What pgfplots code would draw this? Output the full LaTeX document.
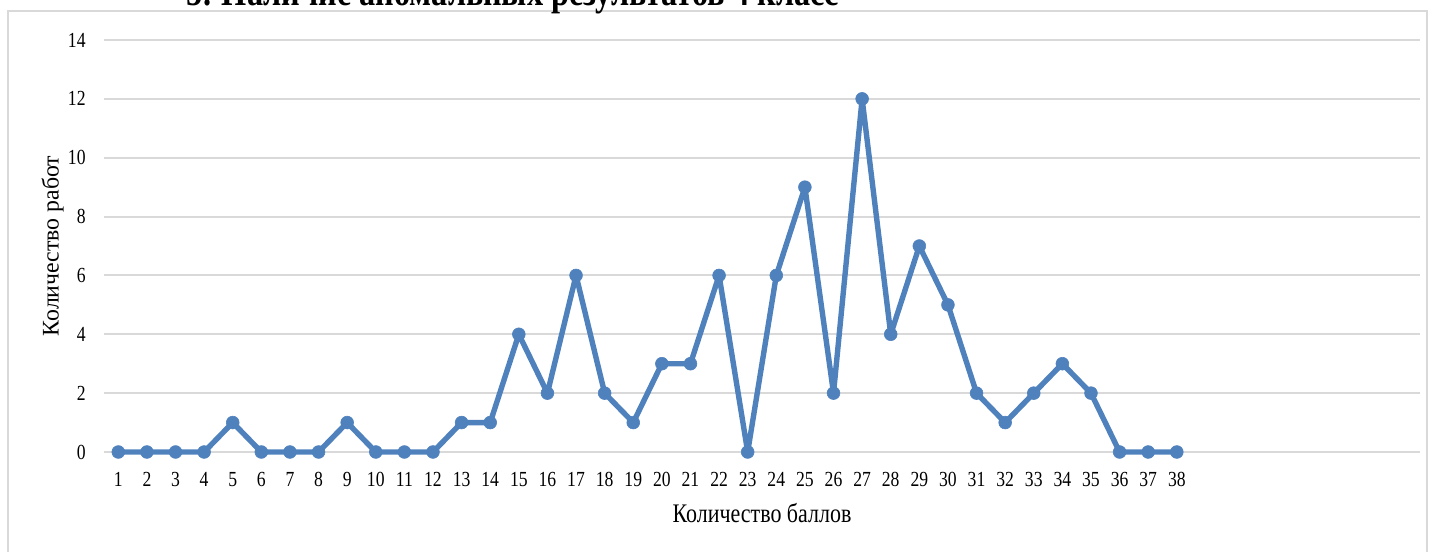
\documentclass[border=0pt]{standalone}
\usepackage{fontspec}
\setmainfont{Liberation Serif}[FakeStretch=0.82]
\newfontfamily\plainserif{Liberation Serif}
\usepackage{pgfplots}
\pgfplotsset{compat=1.18}
\definecolor{linecol}{HTML}{4F81BD}
\definecolor{gridgray}{HTML}{D9D9D9}
\begin{document}
\begin{tikzpicture}
\begin{scope}[x=0.5pt,y=0.5pt]
\useasboundingbox (0,0) rectangle (1432,552);
\draw[gridgray, line width=0.8pt] (8,-20) -- (8,541) -- (1427,541) -- (1427,-20);
\node[anchor=base, inner sep=0pt] at (513,546) {\bfseries\fontsize{19.7}{23}\selectfont 5. Наличие аномальных результатов 4 класс};
\end{scope}
\begin{axis}[
  at={(52pt,50pt)}, anchor=south west,
  scale only axis, width=658pt, height=206pt,
  xmin=0.5, xmax=46.5, ymin=0, ymax=14,
  xtick={1,...,38}, ytick={0,2,...,14},
  major tick length=0pt,
  axis line style={draw=none},
  xtick style={draw=none}, ytick style={draw=none},
  ymajorgrids, major grid style={color=gridgray, line width=1pt},
  /pgf/number format/assume math mode=true,
  tick label style={font=\fontsize{10.75}{13}\selectfont},
  yticklabel style={anchor=east, inner sep=0pt, xshift=-9pt},
  xticklabel style={anchor=base, inner sep=0pt, yshift=-17.5pt},
  xlabel={Количество баллов},
  ylabel={\plainserif\fontsize{11.9}{14}\selectfont Количество работ},
  label style={font=\fontsize{13.4}{16}\selectfont},
  xlabel style={at={(axis description cs:0.5,0)}, anchor=base, inner sep=0pt, yshift=-35.5pt},
  ylabel style={at={(axis description cs:-0.039,0.5)}, anchor=center},
  clip=false,
]
\addplot[color=linecol, line width=2.7pt, line join=round, mark=*, mark size=3.2pt,
  mark options={fill=linecol, draw=linecol, line width=0.3pt}]
  coordinates {
  (1,0) (2,0) (3,0) (4,0) (5,1) (6,0) (7,0) (8,0) (9,1) (10,0)
  (11,0) (12,0) (13,1) (14,1) (15,4) (16,2) (17,6) (18,2) (19,1) (20,3)
  (21,3) (22,6) (23,0) (24,6) (25,9) (26,2) (27,12) (28,4) (29,7) (30,5)
  (31,2) (32,1) (33,2) (34,3) (35,2) (36,0) (37,0) (38,0)
  };
\end{axis}
\end{tikzpicture}
\end{document}
